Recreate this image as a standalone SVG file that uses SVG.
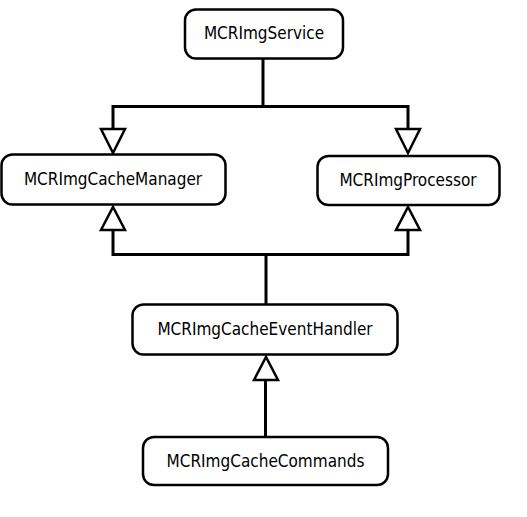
<svg xmlns="http://www.w3.org/2000/svg" width="527" height="517" viewBox="0 0 527 517">
<style>
.box{fill:#fff;stroke:#000;stroke-width:2.5}
.lbl{font-family:"DejaVu Sans Condensed","DejaVu Sans",sans-serif;font-stretch:condensed;font-size:17px;font-weight:200;text-anchor:middle;fill:#000}
.ln{fill:none;stroke:#000;stroke-width:3}
.tri{fill:#fff;stroke:#000;stroke-width:2.5;stroke-linejoin:miter}
</style>
<rect width="527" height="517" fill="#fff"/>
<g id="connectors">
<path class="ln" d="M263,59 V106.5 H113 V129"/>
<path class="ln" d="M263,106.5 H408 V129"/>
<polygon class="tri" points="101,129 125,129 113,153"/>
<polygon class="tri" points="396,129 420,129 408,153"/>
<path class="ln" d="M266,304 V254.5 H113 V230"/>
<path class="ln" d="M266,254.5 H408 V230"/>
<polygon class="tri" points="101,230 125,230 113,207"/>
<polygon class="tri" points="396,230 420,230 408,207"/>
<path class="ln" d="M265.5,437 V380"/>
<polygon class="tri" points="254,380 278,380 266,357"/>
</g>
<g id="MCRImgService">
<rect class="box" x="185" y="9.5" width="158" height="49" rx="11"/>
<text class="lbl" x="264" y="38.5">MCRImgService</text>
</g>
<g id="MCRImgCacheManager">
<rect class="box" x="1.5" y="154.5" width="224" height="50" rx="11"/>
<text class="lbl" x="113" y="185">MCRImgCacheManager</text>
</g>
<g id="MCRImgProcessor">
<rect class="box" x="317.5" y="156" width="182" height="49" rx="11"/>
<text class="lbl" x="408" y="186">MCRImgProcessor</text>
</g>
<g id="MCRImgCacheEventHandler">
<rect class="box" x="132.5" y="304.5" width="265" height="50" rx="11"/>
<text class="lbl" x="265" y="334.5">MCRImgCacheEventHandler</text>
</g>
<g id="MCRImgCacheCommands">
<rect class="box" x="143" y="437" width="245" height="48" rx="11"/>
<text class="lbl" x="265.5" y="467">MCRImgCacheCommands</text>
</g>
</svg>
